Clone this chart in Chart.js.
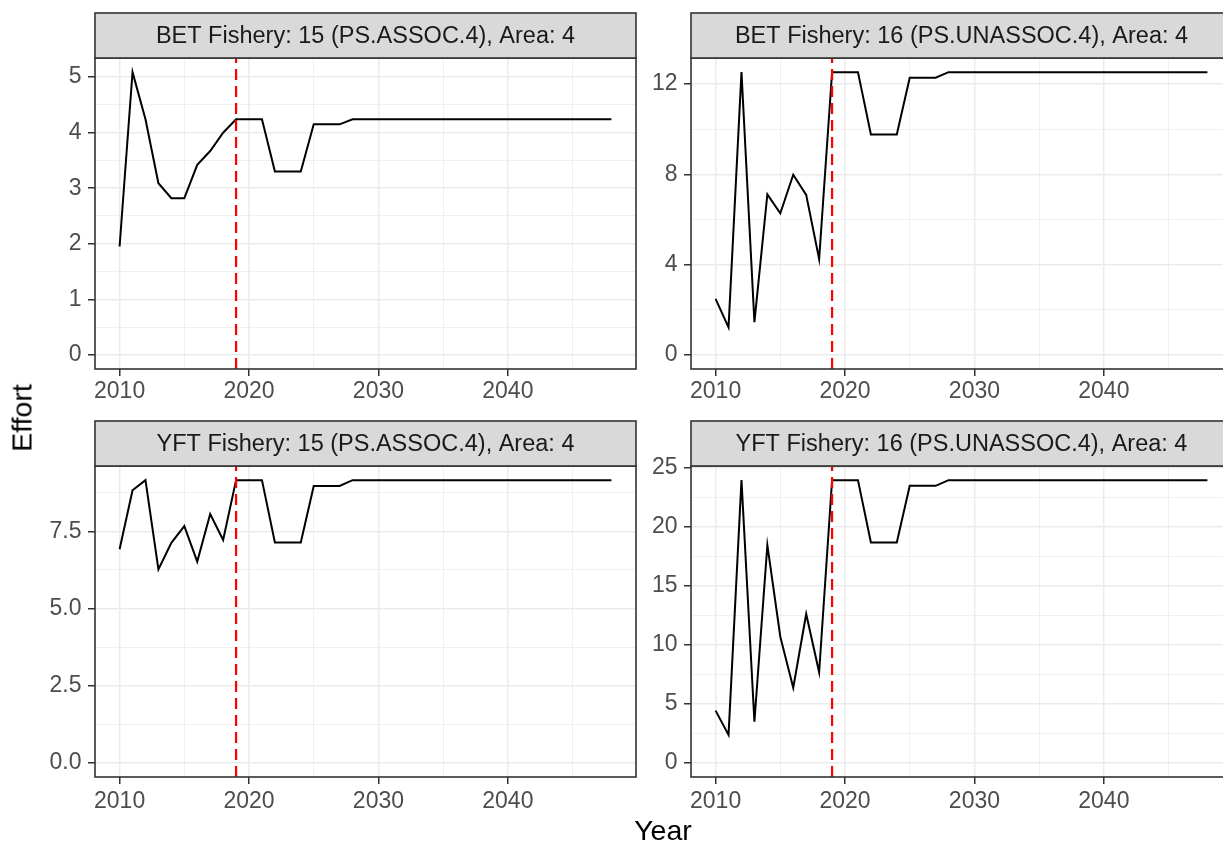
<!DOCTYPE html>
<html>
<head>
<meta charset="utf-8">
<script src="https://cdn.jsdelivr.net/npm/chart.js@4.4.1/dist/chart.umd.min.js"></script>
<style>
  html, body { margin: 0; padding: 0; background: #ffffff; overflow: hidden; }
  #wrap { position: relative; width: 1223px; height: 844px; overflow: hidden;
          font-family: "Liberation Sans", Arial, Helvetica, sans-serif; }
  canvas.pc { position: absolute; }
  #ylab { position: absolute; left: 22px; top: 418px; transform: translate(-50%, -50%) rotate(-90deg);
          font-size: 28.5px; color: #000; white-space: nowrap; }
  #xlab { position: absolute; left: 663px; top: 830px; transform: translate(-50%, -50%);
          font-size: 28.5px; color: #000; white-space: nowrap; }
</style>
</head>
<body>
<div id="wrap">
  <canvas id="c1" class="pc"></canvas>
  <canvas id="c2" class="pc"></canvas>
  <canvas id="c3" class="pc"></canvas>
  <canvas id="c4" class="pc"></canvas>
  <div id="ylab">Effort</div>
  <div id="xlab">Year</div>
</div>
<script>
// ---------------- DATA ----------------
const years = [2010, 2011, 2012, 2013, 2014, 2015, 2016, 2017, 2018, 2019,
               2020, 2021, 2022, 2023, 2024, 2025, 2026, 2027, 2028, 2029,
               2030, 2031, 2032, 2033, 2034, 2035, 2036, 2037, 2038, 2039,
               2040, 2041, 2042, 2043, 2044, 2045, 2046, 2047, 2048];

const betF15 = [1.95, 5.09, 4.24, 3.09, 2.82, 2.82, 3.42, 3.67, 4.00, 4.24,
                4.24, 4.24, 3.30, 3.30, 3.30, 4.15, 4.15, 4.15, 4.24, 4.24,
                4.24, 4.24, 4.24, 4.24, 4.24, 4.24, 4.24, 4.24, 4.24, 4.24,
                4.24, 4.24, 4.24, 4.24, 4.24, 4.24, 4.24, 4.24, 4.24];

const betF16 = [2.48, 1.22, 12.53, 1.45, 7.11, 6.27, 7.98, 7.09, 4.25, 12.53,
                12.53, 12.53, 9.77, 9.77, 9.77, 12.28, 12.28, 12.28, 12.53, 12.53,
                12.53, 12.53, 12.53, 12.53, 12.53, 12.53, 12.53, 12.53, 12.53, 12.53,
                12.53, 12.53, 12.53, 12.53, 12.53, 12.53, 12.53, 12.53, 12.53];

const yftF15 = [6.92, 8.83, 9.16, 6.27, 7.13, 7.67, 6.52, 8.06, 7.22, 9.16,
                9.16, 9.16, 7.14, 7.14, 7.14, 8.97, 8.97, 8.97, 9.16, 9.16,
                9.16, 9.16, 9.16, 9.16, 9.16, 9.16, 9.16, 9.16, 9.16, 9.16,
                9.16, 9.16, 9.16, 9.16, 9.16, 9.16, 9.16, 9.16, 9.16];

const yftF16 = [4.43, 2.37, 23.98, 3.50, 18.47, 10.70, 6.38, 12.63, 7.68, 23.98,
                23.98, 23.98, 18.70, 18.70, 18.70, 23.50, 23.50, 23.50, 23.98, 23.98,
                23.98, 23.98, 23.98, 23.98, 23.98, 23.98, 23.98, 23.98, 23.98, 23.98,
                23.98, 23.98, 23.98, 23.98, 23.98, 23.98, 23.98, 23.98, 23.98];

const stripTitles = ["BET Fishery: 15 (PS.ASSOC.4), Area: 4",
                     "BET Fishery: 16 (PS.UNASSOC.4), Area: 4",
                     "YFT Fishery: 15 (PS.ASSOC.4), Area: 4",
                     "YFT Fishery: 16 (PS.UNASSOC.4), Area: 4"];

const xTicks = [2010, 2020, 2030, 2040];
const yTicks1 = [0, 1, 2, 3, 4, 5];
const yTicks2 = [0, 4, 8, 12];
const yTicks3 = [0, 2.5, 5, 7.5];
const yTickLabels3 = ["0.0", "2.5", "5.0", "7.5"];
const yTicks4 = [0, 5, 10, 15, 20, 25];

const refYear = 2019;   // dashed red reference line

// ---------------- STYLE / HELPERS ----------------
const FONT = '"Liberation Sans", Arial, Helvetica, sans-serif';
Chart.defaults.font.family = FONT;
const TICK_SIZE = 23;
const STRIP_SIZE = 23.5;

function expandRange(lo, hi) {
  const p = (hi - lo) * 0.05;
  return [lo - p, hi + p];
}
function withMinors(majors, lo, hi) {
  const step = majors[1] - majors[0];
  const all = [];
  const first = majors[0] - step / 2;
  for (let v = first; v <= hi + 1e-9; v += step / 2) {
    if (v >= lo - 1e-9) all.push(+v.toFixed(6));
  }
  return all;
}
function isMajor(v, majors) {
  return majors.some(m => Math.abs(m - v) < 1e-6);
}

const facetPlugin = {
  id: 'facet',
  afterDatasetsDraw(chart, args, opts) {
    const { ctx, chartArea: a, scales } = chart;
    const xp = scales.x.getPixelForValue(opts.refYear);
    ctx.save();
    ctx.beginPath();
    ctx.rect(a.left, a.top, a.right - a.left, a.bottom - a.top);
    ctx.clip();
    ctx.strokeStyle = '#FF0000';
    ctx.lineWidth = 2.2;
    ctx.setLineDash([11, 6]);
    ctx.beginPath();
    ctx.moveTo(xp, a.bottom);
    ctx.lineTo(xp, a.top);
    ctx.stroke();
    ctx.restore();
  },
  afterDraw(chart, args, opts) {
    const { ctx, chartArea: a } = chart;
    ctx.save();
    // panel border
    ctx.strokeStyle = '#333333';
    ctx.lineWidth = 1.6;
    ctx.strokeRect(a.left, a.top, a.right - a.left, a.bottom - a.top);
    // strip
    const sh = 45;
    ctx.fillStyle = '#D9D9D9';
    ctx.fillRect(a.left, a.top - sh, a.right - a.left, sh);
    ctx.strokeRect(a.left, a.top - sh, a.right - a.left, sh);
    ctx.fillStyle = '#1A1A1A';
    ctx.font = STRIP_SIZE + 'px ' + FONT;
    ctx.textAlign = 'center';
    ctx.textBaseline = 'middle';
    ctx.fillText(opts.title, (a.left + a.right) / 2, a.top - sh / 2 + 1);
    ctx.restore();
  }
};

function makePanel(id, box, values, yMajors, yLabels, title) {
  const cv = document.getElementById(id);
  cv.width = box.w; cv.height = box.h;
  cv.style.left = box.x + 'px'; cv.style.top = box.y + 'px';
  cv.style.width = box.w + 'px'; cv.style.height = box.h + 'px';

  const [xmin, xmax] = expandRange(Math.min(...years), Math.max(...years));
  const [ymin, ymax] = expandRange(Math.min(0, ...values), Math.max(...values));
  const xAll = withMinors(xTicks, xmin, xmax);
  const yAll = withMinors(yMajors, ymin, ymax);

  const yAxisW = box.plotL - box.x;
  const xAxisH = (box.y + box.h) - box.plotB;

  return new Chart(cv, {
    type: 'line',
    data: {
      datasets: [{
        data: years.map((yr, i) => ({ x: yr, y: values[i] })),
        borderColor: '#000000',
        borderWidth: 2,
        pointRadius: 0,
        tension: 0,
        fill: false
      }]
    },
    options: {
      responsive: false,
      animation: false,
      devicePixelRatio: 1,
      layout: { padding: { top: box.plotT - box.y, right: (box.x + box.w) - box.plotR, left: 0, bottom: 0 } },
      plugins: {
        legend: { display: false },
        tooltip: { enabled: false },
        facet: { title: title, refYear: refYear }
      },
      scales: {
        x: {
          type: 'linear',
          min: xmin, max: xmax,
          afterBuildTicks: s => { s.ticks = xAll.map(v => ({ value: v })); },
          afterFit: s => { s.height = xAxisH; },
          ticks: {
            autoSkip: false, maxRotation: 0, minRotation: 0,
            padding: box.xPad,
            color: '#4D4D4D',
            font: { size: TICK_SIZE },
            callback: v => isMajor(v, xTicks) ? String(v) : ''
          },
          grid: {
            color: '#EBEBEB',
            lineWidth: c => isMajor(c.tick.value, xTicks) ? 1.5 : 0.75,
            drawTicks: true,
            tickLength: 7,
            tickColor: c => isMajor(c.tick.value, xTicks) ? '#333333' : 'rgba(0,0,0,0)',
            tickWidth: 1.5
          },
          border: { display: false }
        },
        y: {
          type: 'linear',
          min: ymin, max: ymax,
          afterBuildTicks: s => { s.ticks = yAll.map(v => ({ value: v })); },
          afterFit: s => { s.width = yAxisW; },
          ticks: {
            autoSkip: false,
            padding: 6.5,
            color: '#4D4D4D',
            font: { size: TICK_SIZE },
            callback: v => {
              const k = yMajors.findIndex(m => Math.abs(m - v) < 1e-6);
              return k >= 0 ? yLabels[k] : '';
            }
          },
          grid: {
            color: '#EBEBEB',
            lineWidth: c => isMajor(c.tick.value, yMajors) ? 1.5 : 0.75,
            drawTicks: true,
            tickLength: 7,
            tickColor: c => isMajor(c.tick.value, yMajors) ? '#333333' : 'rgba(0,0,0,0)',
            tickWidth: 1.5
          },
          border: { display: false }
        }
      }
    },
    plugins: [facetPlugin]
  });
}

makePanel('c1', { x: 0,   y: 0,   w: 640, h: 410, plotL: 95,  plotR: 636,  plotT: 58,  plotB: 369, xPad: 2 },
          betF15, yTicks1, yTicks1.map(String), stripTitles[0]);
makePanel('c2', { x: 640, y: 0,   w: 600, h: 410, plotL: 691, plotR: 1232, plotT: 58,  plotB: 369, xPad: 2 },
          betF16, yTicks2, yTicks2.map(String), stripTitles[1]);
makePanel('c3', { x: 0,   y: 410, w: 640, h: 434, plotL: 95,  plotR: 636,  plotT: 466, plotB: 777, xPad: 4 },
          yftF15, yTicks3, yTickLabels3, stripTitles[2]);
makePanel('c4', { x: 640, y: 410, w: 600, h: 434, plotL: 691, plotR: 1232, plotT: 466, plotB: 777, xPad: 4 },
          yftF16, yTicks4, yTicks4.map(String), stripTitles[3]);
</script>
</body>
</html>
